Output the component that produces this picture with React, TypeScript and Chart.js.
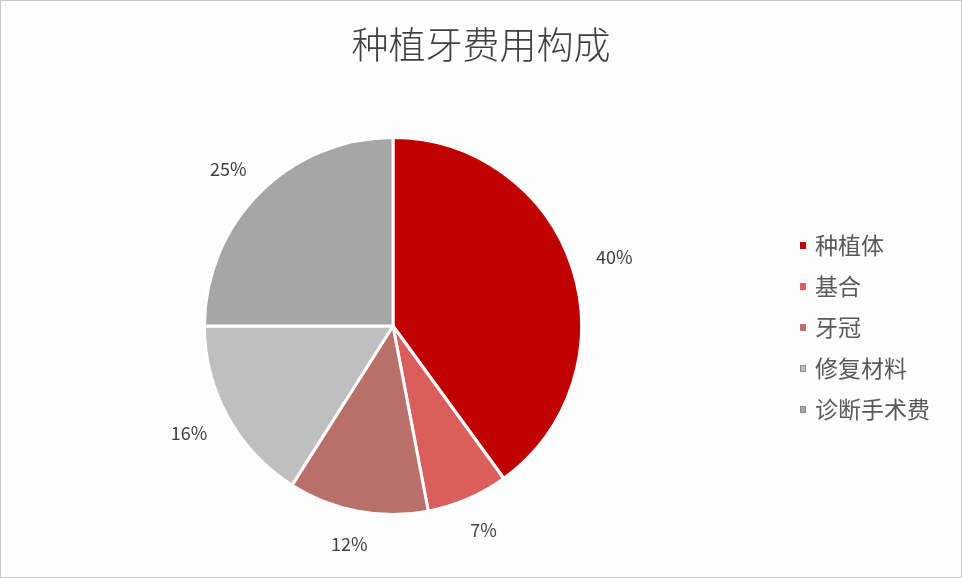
import { useEffect, useRef } from 'react';
import { Chart, registerables, type Plugin } from 'chart.js';

Chart.register(...registerables);

const chartTitle = '种植牙费用构成';
const categories = ['种植体', '基合', '牙冠', '修复材料', '诊断手术费'];
const shares = [40, 7, 12, 16, 25];
const sliceColors = ['#C00000', '#DA5E5C', '#B9706A', '#BFBFBF', '#A6A6A6'];

const FONT = '"Noto Sans CJK SC", "Noto Sans", sans-serif';
const TEXT = '#404040';

// white card with a thin grey frame
const framePlugin: Plugin<'pie'> = {
  id: 'frame',
  beforeDraw(chart) {
    const { ctx, width, height } = chart;
    ctx.save();
    ctx.fillStyle = '#FDFDFE';
    ctx.fillRect(0, 0, width, height);
    ctx.strokeStyle = '#C8C8C8';
    ctx.lineWidth = 1;
    ctx.strokeRect(0.5, 0.5, width - 1, height - 1);
    ctx.restore();
  },
};

// title centred on the whole card, not on the pie
const titlePlugin: Plugin<'pie'> = {
  id: 'cardTitle',
  afterDraw(chart) {
    const { ctx, width } = chart;
    ctx.save();
    ctx.font = `300 37px ${FONT}`;
    ctx.fillStyle = TEXT;
    ctx.textAlign = 'center';
    ctx.textBaseline = 'middle';
    ctx.fillText(chartTitle, width / 2, 45);
    ctx.restore();
  },
};

// percentage labels just outside each slice
const outsideLabels: Plugin<'pie'> = {
  id: 'outsideLabels',
  afterDatasetsDraw(chart) {
    const { ctx } = chart;
    const meta = chart.getDatasetMeta(0);
    ctx.save();
    ctx.font = `18px ${FONT}`;
    ctx.fillStyle = TEXT;
    ctx.textAlign = 'center';
    ctx.textBaseline = 'middle';
    meta.data.forEach((arc, i) => {
      const { x, y, startAngle, endAngle, outerRadius } = arc.getProps(
        ['x', 'y', 'startAngle', 'endAngle', 'outerRadius'],
        true,
      ) as any;
      const mid = (startAngle + endAngle) / 2;
      const ux = Math.cos(mid);
      const uy = Math.sin(mid);
      const text = `${shares[i]}%`;
      const w = ctx.measureText(text).width;
      const h = 16;
      const gap = 26;
      const lx = x + ux * (outerRadius + gap) + (ux * w) / 2;
      const ly = y + uy * (outerRadius + gap) + (uy * h) / 2;
      ctx.fillText(text, lx, ly);
    });
    ctx.restore();
  },
};

// legend on the right
const legendPlugin: Plugin<'pie'> = {
  id: 'sideLegend',
  afterDraw(chart) {
    const { ctx } = chart;
    ctx.save();
    ctx.font = `23px ${FONT}`;
    ctx.textBaseline = 'middle';
    ctx.textAlign = 'left';
    categories.forEach((name, i) => {
      const y = 245 + i * 41;
      ctx.fillStyle = sliceColors[i];
      ctx.fillRect(800, y - 3, 6, 7);
      if (i >= 3) {
        ctx.strokeStyle = '#8C8C8C';
        ctx.lineWidth = 1;
        ctx.strokeRect(800.5, y - 2.5, 5, 6);
      }
      ctx.fillStyle = '#595959';
      ctx.fillText(name, 815, y);
    });
    ctx.restore();
  },
};

export default function App() {
  const canvasRef = useRef<HTMLCanvasElement | null>(null);

  useEffect(() => {
    if (!canvasRef.current) return;
    const chart = new Chart(canvasRef.current, {
      type: 'pie',
      data: {
        labels: categories,
        datasets: [
          {
            data: shares,
            backgroundColor: sliceColors,
            borderColor: '#FFFFFF',
            borderWidth: 3,
            hoverOffset: 0,
          },
        ],
      },
      options: {
        responsive: true,
        maintainAspectRatio: false,
        animation: false,
        layout: { padding: { left: 0, right: 176, top: 136, bottom: 62 } },
        plugins: {
          legend: { display: false },
          title: { display: false },
          tooltip: { enabled: false },
        },
      },
      plugins: [framePlugin, titlePlugin, outsideLabels, legendPlugin],
    });
    return () => chart.destroy();
  }, []);

  return (
    <div style={{ position: 'fixed', left: 0, top: 0, width: 962, height: 578 }}>
      <canvas ref={canvasRef} />
    </div>
  );
}
